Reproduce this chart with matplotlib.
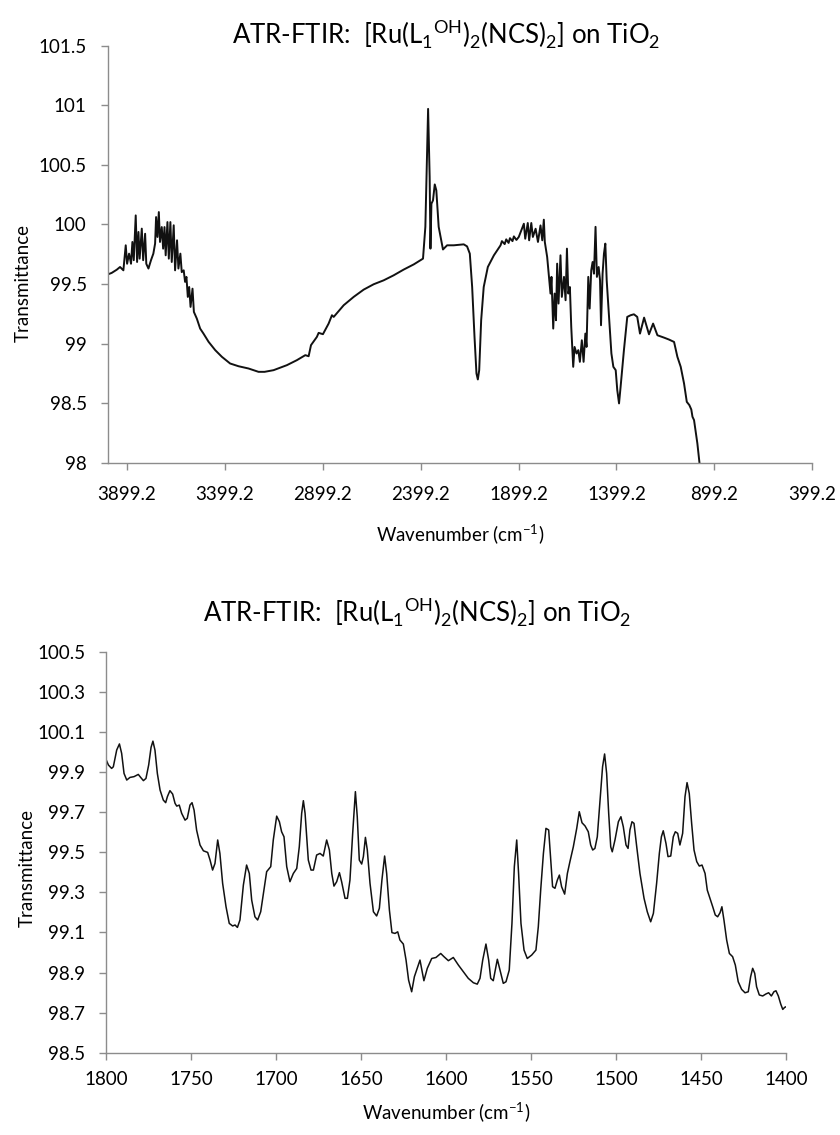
import matplotlib
matplotlib.use("Agg")
import matplotlib.pyplot as plt

plt.rcParams['font.family'] = ['Lato', 'DejaVu Sans']
plt.rcParams['mathtext.fontset'] = 'custom'
plt.rcParams['mathtext.rm'] = 'Lato'

TITLE = (r'ATR-FTIR:  [Ru(L$_\mathregular{1}$$^\mathregular{OH}$)$_\mathregular{2}$'
         r'(NCS)$_\mathregular{2}$] on TiO$_\mathregular{2}$')
XLABEL = r'Wavenumber (cm$^\mathregular{-1}$)'
YLABEL = 'Transmittance'

# full range spectrum, 4000-400 cm-1
full_wn = [
    3998, 3977, 3951, 3934, 3917, 3905, 3898, 3888, 3878, 3871, 3864, 3854, 3847, 3840,
    3834, 3823, 3816, 3806, 3800, 3789, 3776, 3764, 3755, 3750, 3743, 3736, 3730, 3721,
    3714, 3707, 3701, 3692, 3685, 3677, 3670, 3660, 3653, 3643, 3636, 3626, 3619, 3609,
    3602, 3595, 3588, 3581, 3574, 3564, 3557, 3542, 3525, 3508, 3482, 3448, 3414, 3372,
    3329, 3278, 3227, 3196, 3150, 3082, 3031, 2988, 2971, 2959, 2929, 2920, 2898, 2869,
    2852, 2843, 2792, 2741, 2690, 2639, 2588, 2537, 2486, 2434, 2387, 2375, 2361, 2353,
    2349, 2344, 2336, 2327, 2319, 2307, 2285, 2264, 2230, 2179, 2162, 2148, 2136, 2124,
    2114, 2107, 2100, 2090, 2077, 2056, 2025, 1991, 1984, 1970, 1962, 1950, 1943, 1930,
    1923, 1910, 1898, 1872, 1865, 1852, 1845, 1834, 1826, 1812, 1800, 1787, 1778, 1770,
    1765, 1753, 1744, 1736, 1731, 1722, 1715, 1708, 1702, 1695, 1685, 1678, 1667, 1659,
    1652, 1645, 1637, 1630, 1620, 1613, 1603, 1594, 1586, 1576, 1567, 1558, 1552, 1543,
    1536, 1528, 1521, 1514, 1506, 1499, 1490, 1483, 1478, 1470, 1463, 1456, 1449, 1437,
    1425, 1415, 1403, 1395, 1386, 1378, 1361, 1344, 1327, 1310, 1293, 1279, 1258, 1233,
    1212, 1190, 1156, 1131, 1105, 1088, 1071, 1054, 1040, 1027, 1017, 1011, 1003, 986,
    972,
]
full_t = [
    99.58, 99.593, 99.62, 99.643, 99.615, 99.825, 99.67, 99.755, 99.67, 99.853, 99.70, 100.076, 99.685, 99.937,
    99.713, 99.965, 99.70, 99.922, 99.67, 99.63, 99.70, 99.755, 99.84, 100.062, 99.895, 100.104, 99.853, 99.978,
    99.797, 99.978, 99.741, 100.02, 99.713, 100.02, 99.685, 99.993, 99.615, 99.867, 99.63, 99.755, 99.60, 99.615,
    99.518, 99.56, 99.392, 99.475, 99.308, 99.461, 99.266, 99.21, 99.126, 99.084, 99.015, 98.945, 98.889, 98.833,
    98.81, 98.791, 98.763, 98.763, 98.777, 98.819, 98.861, 98.903, 98.894, 98.987, 99.056, 99.09, 99.079, 99.168,
    99.238, 99.224, 99.322, 99.392, 99.453, 99.498, 99.531, 99.573, 99.621, 99.665, 99.713, 99.98, 100.97, 100.397,
    99.797, 100.174, 100.202, 100.336, 100.286, 99.98, 99.79, 99.825, 99.825, 99.833, 99.816, 99.755, 99.475, 99.056,
    98.749, 98.699, 98.777, 99.196, 99.475, 99.643, 99.741, 99.825, 99.86, 99.835, 99.875, 99.845, 99.885, 99.86,
    99.9, 99.87, 99.895, 100.006, 99.88, 100.012, 99.867, 100.012, 99.895, 99.964, 99.853, 99.992, 99.867, 100.04,
    99.853, 99.727, 99.56, 99.42, 99.56, 99.126, 99.42, 99.196, 99.671, 99.336, 99.741, 99.392, 99.56, 99.364,
    99.797, 99.42, 99.475, 99.14, 98.805, 98.972, 98.917, 98.945, 98.847, 99.028, 98.847, 99.084, 98.972, 99.56,
    99.294, 99.615, 99.685, 99.587, 99.98, 99.56, 99.643, 99.531, 99.154, 99.587, 99.755, 99.839, 99.531, 99.224,
    98.917, 98.805, 98.777, 98.609, 98.498, 98.637, 98.945, 99.224, 99.238, 99.246, 99.224, 99.084, 99.218, 99.078,
    99.168, 99.07, 99.05, 99.034, 99.014, 98.889, 98.805, 98.665, 98.511, 98.484, 98.447, 98.386, 98.358, 98.162,
    97.95,
]

# expanded region, 1800-1400 cm-1
zoom_wn = [
    1800.0, 1798.6, 1796.7, 1795.7, 1793.7, 1792.1, 1790.8, 1789.4, 1787.8, 1785.9, 1783.5, 1781.0,
    1779.6, 1778.0, 1776.5, 1774.9, 1773.5, 1772.4, 1771.2, 1769.8, 1768.2, 1766.3, 1764.9, 1763.9,
    1762.4, 1760.8, 1759.4, 1758.4, 1756.9, 1755.5, 1753.5, 1752.2, 1750.6, 1749.4, 1748.2, 1746.7,
    1744.7, 1742.7, 1740.2, 1738.8, 1737.3, 1735.9, 1734.3, 1733.0, 1731.4, 1729.4, 1727.5, 1725.5,
    1724.1, 1722.7, 1721.2, 1719.2, 1717.3, 1715.7, 1714.3, 1712.4, 1710.8, 1709.0, 1707.4, 1705.5,
    1703.1, 1701.6, 1699.6, 1698.0, 1696.7, 1695.3, 1693.7, 1691.8, 1689.8, 1687.8, 1686.3, 1684.9,
    1683.9, 1682.9, 1681.0, 1679.4, 1678.0, 1676.1, 1674.1, 1672.2, 1670.2, 1668.6, 1667.2, 1665.9,
    1664.3, 1662.7, 1661.4, 1659.4, 1658.0, 1656.5, 1654.9, 1653.3, 1652.2, 1651.0, 1649.6, 1648.6,
    1647.4, 1646.3, 1644.7, 1642.7, 1640.8, 1639.2, 1637.7, 1636.1, 1634.9, 1633.3, 1631.8, 1630.0,
    1628.4, 1627.1, 1625.1, 1623.5, 1622.0, 1620.2, 1618.6, 1615.3, 1613.0, 1611.0, 1608.4, 1605.9,
    1603.1, 1601.2, 1598.6, 1595.7, 1592.7, 1589.8, 1586.9, 1583.9, 1581.6, 1580.0, 1578.4, 1576.5,
    1574.9, 1573.7, 1572.2, 1571.0, 1569.8, 1568.2, 1566.3, 1564.7, 1562.8, 1561.2, 1559.8, 1558.4,
    1557.3, 1555.9, 1554.1, 1552.2, 1549.6, 1547.1, 1545.7, 1544.3, 1542.7, 1541.2, 1539.6, 1538.4,
    1537.3, 1535.9, 1534.5, 1533.3, 1532.0, 1530.2, 1528.6, 1527.1, 1525.1, 1523.1, 1521.6, 1520.0,
    1518.2, 1516.3, 1514.9, 1513.7, 1512.4, 1511.0, 1509.4, 1507.9, 1506.7, 1505.5, 1504.3, 1503.1,
    1502.2, 1500.6, 1498.6, 1497.1, 1495.7, 1494.1, 1492.9, 1491.8, 1490.6, 1489.4, 1487.8, 1485.9,
    1483.5, 1481.6, 1479.6, 1478.0, 1476.1, 1474.5, 1473.3, 1472.2, 1470.6, 1469.4, 1467.8, 1466.3,
    1465.1, 1463.7, 1462.4, 1460.8, 1459.4, 1458.2, 1456.9, 1455.5, 1454.1, 1452.5, 1451.0, 1449.4,
    1447.6, 1446.3, 1444.7, 1443.1, 1441.6, 1440.2, 1438.8, 1437.7, 1436.5, 1434.9, 1433.3, 1431.4,
    1429.8, 1428.1, 1426.1, 1424.1, 1422.2, 1420.8, 1419.6, 1418.4, 1417.3, 1415.7, 1413.7, 1411.8,
    1410.2, 1408.6, 1407.1, 1405.9, 1404.5, 1403.1, 1401.9, 1400.8, 1400.0,
]
zoom_t = [
    99.963, 99.935, 99.918, 99.926, 100.01, 100.04, 99.993, 99.893, 99.86, 99.873, 99.877, 99.888,
    99.873, 99.857, 99.868, 99.935, 100.023, 100.054, 100.009, 99.893, 99.81, 99.76, 99.747, 99.777,
    99.807, 99.79, 99.744, 99.73, 99.735, 99.694, 99.66, 99.669, 99.735, 99.747, 99.71, 99.61,
    99.536, 99.507, 99.499, 99.461, 99.411, 99.444, 99.561, 99.494, 99.345, 99.228, 99.145, 99.132,
    99.137, 99.125, 99.162, 99.336, 99.436, 99.394, 99.261, 99.178, 99.162, 99.203, 99.295, 99.403,
    99.428, 99.561, 99.68, 99.652, 99.602, 99.577, 99.428, 99.353, 99.394, 99.419, 99.527, 99.694,
    99.757, 99.694, 99.461, 99.411, 99.411, 99.486, 99.494, 99.481, 99.561, 99.511, 99.394, 99.331,
    99.353, 99.398, 99.353, 99.27, 99.27, 99.361, 99.594, 99.802, 99.677, 99.461, 99.441, 99.478,
    99.574, 99.511, 99.345, 99.203, 99.182, 99.22, 99.361, 99.481, 99.394, 99.212, 99.099, 99.095,
    99.103, 99.062, 99.042, 98.962, 98.862, 98.804, 98.879, 98.962, 98.859, 98.921, 98.97, 98.975,
    98.995, 98.979, 98.959, 98.975, 98.937, 98.904, 98.871, 98.849, 98.842, 98.871, 98.962, 99.042,
    98.962, 98.871, 98.859, 98.912, 98.966, 98.912, 98.846, 98.854, 98.912, 99.145, 99.428, 99.561,
    99.394, 99.145, 99.012, 98.97, 98.987, 99.012, 99.128, 99.311, 99.494, 99.619, 99.611, 99.461,
    99.328, 99.32, 99.361, 99.386, 99.328, 99.291, 99.394, 99.453, 99.527, 99.619, 99.702, 99.647,
    99.631, 99.602, 99.536, 99.511, 99.519, 99.577, 99.76, 99.926, 99.99, 99.893, 99.694, 99.527,
    99.502, 99.561, 99.652, 99.677, 99.627, 99.536, 99.519, 99.611, 99.652, 99.644, 99.527, 99.394,
    99.27, 99.203, 99.153, 99.195, 99.345, 99.494, 99.577, 99.607, 99.544, 99.478, 99.481, 99.577,
    99.602, 99.594, 99.536, 99.594, 99.777, 99.847, 99.793, 99.644, 99.511, 99.453, 99.431, 99.436,
    99.394, 99.311, 99.27, 99.228, 99.187, 99.178, 99.198, 99.228, 99.162, 99.062, 98.995, 98.979,
    98.937, 98.854, 98.816, 98.799, 98.804, 98.879, 98.921, 98.896, 98.829, 98.788, 98.783, 98.793,
    98.799, 98.783, 98.804, 98.809, 98.783, 98.743, 98.716, 98.726, 98.729,
]

full_xticks = [3899.2, 3399.2, 2899.2, 2399.2, 1899.2, 1399.2, 899.2, 399.2]
full_yticks = [98, 98.5, 99, 99.5, 100, 100.5, 101, 101.5]
zoom_xticks = [1800, 1750, 1700, 1650, 1600, 1550, 1500, 1450, 1400]
zoom_yticks = [98.5, 98.7, 98.9, 99.1, 99.3, 99.5, 99.7, 99.9, 100.1, 100.3, 100.5]

AXIS_GREY = '#8c8c8c'
LINE = '#111111'


def general(v):
    # spreadsheet "General" number format
    return ('%.1f' % v).rstrip('0').rstrip('.')


def style_axes(ax, xpad):
    for side in ('top', 'right'):
        ax.spines[side].set_visible(False)
    for side in ('left', 'bottom'):
        ax.spines[side].set_color(AXIS_GREY)
        ax.spines[side].set_linewidth(1.0)
    ax.tick_params(direction='out', length=5, width=1.0, color=AXIS_GREY,
                   labelsize=13.5, labelcolor='black')
    ax.tick_params(axis='x', pad=xpad)
    ax.tick_params(axis='y', pad=10)


fig = plt.figure(figsize=(8.4, 11.35), dpi=100)

# full spectrum
ax1 = fig.add_axes([0.128, 0.5923, 0.839, 0.3674])
ax1.plot(full_wn, full_t, color=LINE, lw=1.4, solid_joinstyle='round')
ax1.set_xlim(3998, 399.2)
ax1.set_ylim(98, 101.5)
ax1.set_xticks(full_xticks)
ax1.set_xticklabels([str(v) for v in full_xticks])
ax1.set_yticks(full_yticks)
ax1.set_yticklabels([general(v) for v in full_yticks])
style_axes(ax1, 12)
ax1.set_xlabel(XLABEL, fontsize=13.5, labelpad=14)
ax1.set_ylabel(YLABEL, fontsize=13.5)
ax1.yaxis.set_label_coords(-0.108, 0.43)
fig.text(446 / 840, 1 - 33 / 1135, TITLE, ha='center', va='center', fontsize=18.5)

# 1800-1400 expansion
ax2 = fig.add_axes([0.1262, 0.0725, 0.8095, 0.3533])
ax2.plot(zoom_wn, zoom_t, color=LINE, lw=1.1, solid_joinstyle='round')
ax2.set_xlim(1800, 1400)
ax2.set_ylim(98.5, 100.5)
ax2.set_xticks(zoom_xticks)
ax2.set_xticklabels([str(v) for v in zoom_xticks])
ax2.set_yticks(zoom_yticks)
ax2.set_yticklabels([general(v) for v in zoom_yticks])
style_axes(ax2, 8)
ax2.set_xlabel(XLABEL, fontsize=13.5, labelpad=9)
ax2.set_ylabel(YLABEL, fontsize=13.5)
ax2.yaxis.set_label_coords(-0.104, 0.46)
fig.text(417 / 840, 1 - 612 / 1135, TITLE, ha='center', va='center', fontsize=18.5)

fig.savefig('out.png', dpi=100)
